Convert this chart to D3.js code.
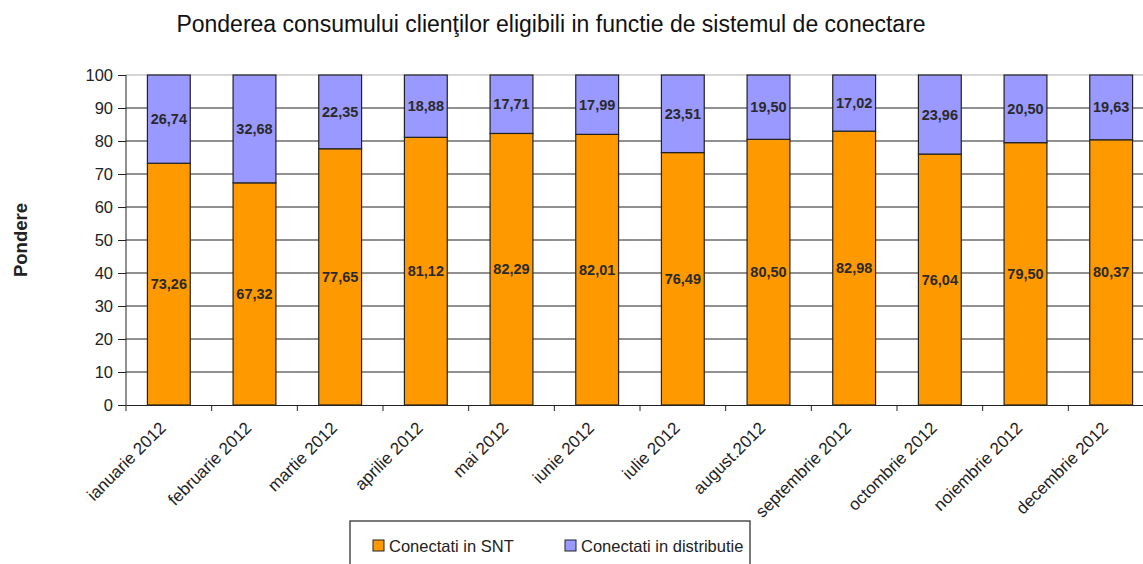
<!DOCTYPE html>
<html>
<head>
<meta charset="utf-8">
<script src="https://cdn.jsdelivr.net/npm/d3@7"></script>
<style>
  body { margin: 0; background: #fff; }
  svg { display: block; font-family: "Liberation Sans", Arial, sans-serif; }
</style>
</head>
<body>
<svg id="chart" width="1143" height="564"></svg>
<script>
// chart data
const months = ['ianuarie 2012', 'februarie 2012', 'martie 2012', 'aprilie 2012', 'mai 2012', 'iunie 2012',
  'iulie 2012', 'august.2012', 'septembrie 2012', 'octombrie 2012', 'noiembrie 2012', 'decembrie 2012'];
const snt = [73.26, 67.32, 77.65, 81.12, 82.29, 82.01, 76.49, 80.50, 82.98, 76.04, 79.50, 80.37];
const distributie = [26.74, 32.68, 22.35, 18.88, 17.71, 17.99, 23.51, 19.50, 17.02, 23.96, 20.50, 19.63];
const seriesNames = ['Conectati in SNT', 'Conectati in distributie'];
const yTicks = [0, 10, 20, 30, 40, 50, 60, 70, 80, 90, 100];

const COLORS = ['#ff9900', '#9999ff'];
const svg = d3.select('#chart');

const plotLeft = 126, plotTop = 75, plotW = 1028, plotH = 330;

const x = d3.scaleBand().domain(months).range([plotLeft, plotLeft + plotW]).paddingInner(0.5).paddingOuter(0.25);
const xTick = d3.scaleBand().domain(months).range([plotLeft, plotLeft + plotW]);
const y = d3.scaleLinear().domain([0, 100]).range([plotTop + plotH, plotTop]);

// title
svg.append('text')
  .attr('x', 551).attr('y', 32)
  .attr('text-anchor', 'middle')
  .attr('font-size', 23)
  .attr('fill', '#111')
  .text('Ponderea consumului clienţilor eligibili in functie de sistemul de conectare');

// y axis title
svg.append('text')
  .attr('transform', 'translate(27,240) rotate(-90)')
  .attr('text-anchor', 'middle')
  .attr('font-size', 18.5)
  .attr('font-weight', 'bold')
  .attr('fill', '#222')
  .text('Pondere');

// gridlines
svg.append('g').selectAll('line')
  .data(yTicks.filter(d => d > 0))
  .join('line')
  .attr('x1', plotLeft).attr('x2', plotLeft + plotW)
  .attr('y1', d => y(d)).attr('y2', d => y(d))
  .attr('stroke', d => d === 100 ? '#c8c8c8' : '#222')
  .attr('stroke-width', d => d === 100 ? 1.5 : 1);

// stacked bars
const stacked = months.map((m, i) => ({ m, vals: [snt[i], distributie[i]] }));
const barG = svg.append('g');
stacked.forEach(d => {
  let base = 0;
  d.vals.forEach((v, k) => {
    barG.append('rect')
      .attr('x', x(d.m)).attr('width', x.bandwidth())
      .attr('y', y(base + v)).attr('height', y(base) - y(base + v))
      .attr('fill', COLORS[k])
      .attr('stroke', '#222').attr('stroke-width', 1.2);
    barG.append('text')
      .attr('x', x(d.m) + x.bandwidth() / 2)
      .attr('y', y(base + v / 2) + 5)
      .attr('text-anchor', 'middle')
      .attr('font-size', 14.5)
      .attr('font-weight', 'bold')
      .attr('fill', '#2a2a2a')
      .text(v.toFixed(2).replace('.', ','));
    base += v;
  });
});

// y axis
const yAxis = svg.append('g')
  .attr('transform', `translate(${plotLeft},0)`)
  .call(d3.axisLeft(y).tickValues(yTicks).tickSize(8).tickPadding(5));
yAxis.select('.domain').attr('stroke', '#222').attr('d', `M-0,${plotTop}V${plotTop + plotH}`);
yAxis.selectAll('.tick line').attr('stroke', '#222');
yAxis.selectAll('.tick text').attr('font-size', 16.5).attr('fill', '#222')
  .attr('font-family', '"Liberation Sans", Arial, sans-serif');

// x axis
const xAxis = svg.append('g')
  .attr('transform', `translate(0,${plotTop + plotH})`)
  .call(d3.axisBottom(xTick).tickSize(0).tickFormat(''));
xAxis.select('.domain').attr('stroke', '#222');
svg.append('g').selectAll('line')
  .data(d3.range(months.length + 1))
  .join('line')
  .attr('x1', i => plotLeft + i * xTick.step()).attr('x2', i => plotLeft + i * xTick.step())
  .attr('y1', plotTop + plotH).attr('y2', plotTop + plotH + 6)
  .attr('stroke', '#222');

svg.append('g').selectAll('text')
  .data(months)
  .join('text')
  .attr('transform', m => `translate(${xTick(m) + xTick.bandwidth() / 2 - 2},${plotTop + plotH + 24}) rotate(-45)`)
  .attr('text-anchor', 'end')
  .attr('font-size', 17)
  .attr('fill', '#222')
  .text(m => m);

// legend
const leg = svg.append('g');
leg.append('rect')
  .attr('x', 350).attr('y', 521).attr('width', 400).attr('height', 60)
  .attr('fill', '#fff').attr('stroke', '#222').attr('stroke-width', 1.2);
const legX = [373, 565];
seriesNames.forEach((name, k) => {
  leg.append('rect')
    .attr('x', legX[k]).attr('y', 540).attr('width', 11).attr('height', 11)
    .attr('fill', COLORS[k]).attr('stroke', '#222');
  leg.append('text')
    .attr('x', legX[k] + 16).attr('y', 552)
    .attr('font-size', 16.5)
    .attr('fill', '#222')
    .text(name);
});
</script>
</body>
</html>
